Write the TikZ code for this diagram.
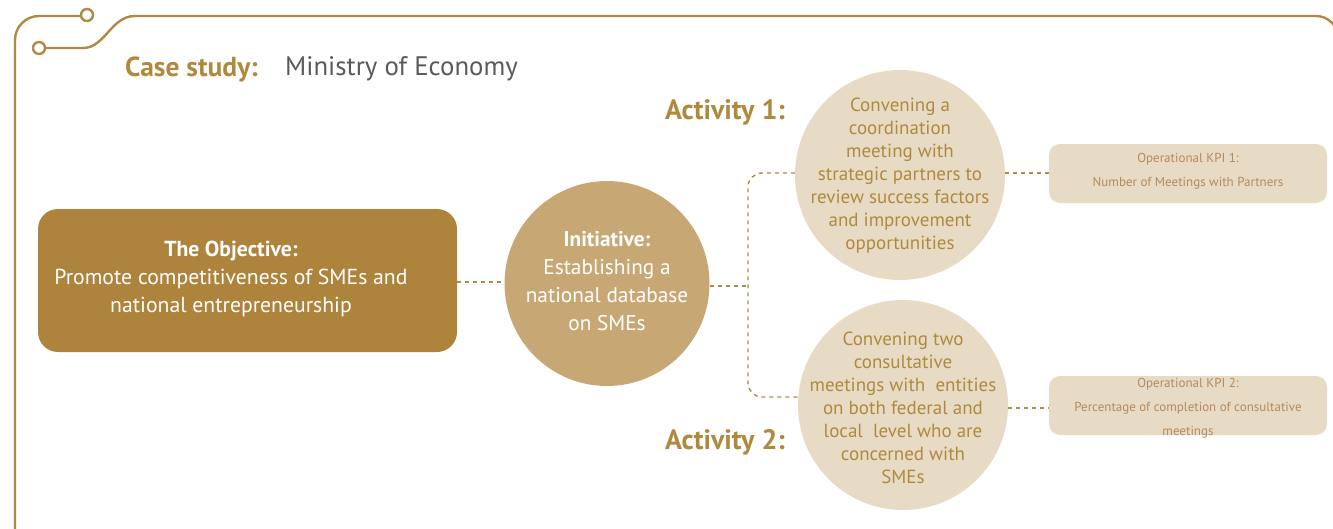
\documentclass[tikz,border=0pt]{standalone}
\usepackage{fontspec}
\setmainfont{PT Sans}
\definecolor{goldline}{HTML}{B08A45}
\definecolor{objfill}{HTML}{AE833B}
\definecolor{inifill}{HTML}{C7A874}
\definecolor{lightfill}{HTML}{E7DBC5}
\definecolor{goldtext}{HTML}{AF8A3E}
\definecolor{kpitext}{HTML}{B58A5E}
\definecolor{greytext}{HTML}{595A5C}
\tikzset{
  frame/.style={draw=goldline, line width=2.4pt},
  dashlink/.style={draw=goldline, line width=1.4pt, dash pattern=on 4pt off 4pt},
  bigcircle/.style={circle, inner sep=0pt, minimum size=#1},
  txt/.style={align=center, inner sep=0pt},
  kpibox/.style={rounded corners=11pt, fill=lightfill, minimum width=278pt, minimum height=59pt, inner sep=0pt},
}
\begin{document}
\begin{tikzpicture}[x=1pt,y=-1pt]
\useasboundingbox (0,0) rectangle (1333,528);
% frame
\draw[frame, rounded corners=24pt] (15,560) -- (15,16) -- (81,16);
\draw[frame] (87,15) circle (6pt);
\draw[frame] (39,48) circle (6pt);
\draw[frame] (45,48) -- (83,48) .. controls (105,48) and (111,16) .. (135,16);
\draw[frame, rounded corners=22pt] (134,16) -- (1338,16) -- (1338,560);
% title
\node[txt, anchor=west, text=goldtext, font=\fontsize{27.5}{30}\selectfont\bfseries] (cs) at (125,69) {Case study:};
\node[txt, anchor=west, text=greytext, font=\fontsize{26.8}{30}\selectfont] (min) at (285,69) {Ministry of Economy};
% objective
\node[rounded corners=20pt, fill=objfill, minimum width=419pt, minimum height=143pt, inner sep=0pt] (obj) at (247.5,280.5) {};
\node[txt, text=white, font=\fontsize{21.7}{28}\selectfont] (objt) at (231,279) {\textbf{The Objective:}\\Promote competitiveness of SMEs and\\national entrepreneurship};
% initiative
\node[bigcircle=205pt, fill=inifill] (ini) at (607,283.5) {};
\node[txt, text=white, font=\fontsize{21.3}{28}\selectfont] (init) at (607,281) {\textbf{Initiative:}\\Establishing a\\national database\\on SMEs};
% activities
\node[bigcircle=210pt, fill=lightfill] (a1) at (900,175) {};
\node[txt, text=goldtext, font=\fontsize{19}{23}\selectfont] (a1t) at (900,176) {Convening a\\coordination\\meeting with\\strategic partners to\\review success factors\\and improvement\\opportunities};
\node[bigcircle=210pt, fill=lightfill] (a2) at (903,405) {};
\node[txt, text=goldtext, font=\fontsize{19}{23}\selectfont] (a2t) at (903,408) {Convening two\\consultative\\meetings with\ \ entities\\on both federal and\\local\ \ level who are\\concerned with\\SMEs};
\node[txt, anchor=west, text=goldtext, font=\fontsize{28}{30}\selectfont\bfseries] (al1) at (665,112) {Activity 1:};
\node[txt, anchor=west, text=goldtext, font=\fontsize{28}{30}\selectfont\bfseries] (al2) at (665,442) {Activity 2:};
% KPIs
\node[kpibox] (k1) at (1188,173.5) {};
\node[txt, text=kpitext, font=\fontsize{13}{24}\selectfont] (k1t) at (1188,171) {Operational KPI 1:\\Number of Meetings with Partners};
\node[kpibox] (k2) at (1188,405.5) {};
\node[txt, text=kpitext, font=\fontsize{13}{24}\selectfont] (k2t) at (1188,408) {Operational KPI 2:\\Percentage of completion of consultative\\meetings};
% connectors
\coordinate (br) at (748,286);
\draw[dashlink] (obj.east |- 0,282) -- (ini.west |- 0,282);
\draw[dashlink] (ini.east |- br) -- (br);
\draw[dashlink, rounded corners=14pt] (a1.west |- 0,173) -- (748,173) -- (748,397) -- (a2.west |- 0,397);
\draw[dashlink] (a1.east |- 0,173) -- (k1.west |- 0,173);
\draw[dashlink] (a2.east |- 0,408) -- (k2.west |- 0,408);
\end{tikzpicture}
\end{document}
